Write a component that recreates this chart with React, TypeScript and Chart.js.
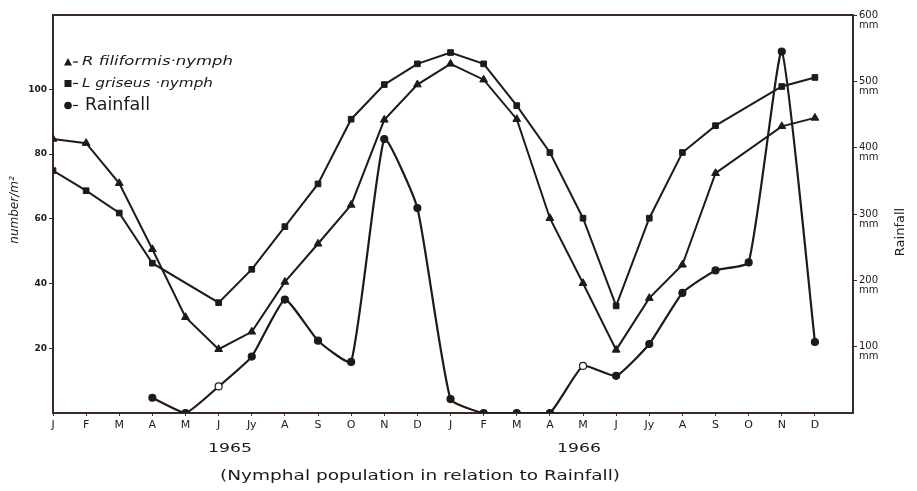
import React, { useEffect, useRef } from 'react';
import { Chart, registerables } from 'chart.js';

Chart.register(...registerables);

const months = ['J', 'F', 'M', 'A', 'M', 'J', 'Jy', 'A', 'S', 'O', 'N', 'D', 'J', 'F', 'M', 'A', 'M', 'J', 'Jy', 'A', 'S', 'O', 'N', 'D'];
const years = ['1965', '1966'];
const leftTicks = [20, 40, 60, 80, 100];
const rightTicks = [100, 200, 300, 400, 500, 600];

const filiformis = [84.7, 83.4, 71.0, 50.6, 29.6, 19.7, 25.1, 40.5, 52.3, 64.3, 90.6, 101.5, 107.9, 103.0, 90.8, 60.2, 40.1, 19.5, 35.5, 45.8, 74.1, null, 88.6, 91.2];
const griseus = [74.9, 68.7, 61.8, 46.3, null, 34.1, 44.4, 57.6, 70.8, 90.8, 101.5, 107.9, 111.4, 107.9, 95.0, 80.5, 60.2, 33.1, 60.2, 80.5, 88.8, null, 100.9, 103.7];
const rainfall = [null, null, null, 23, 0, 40, 85, 171, 109, 77, 413, 309, 21, 0, 0, 0, 71, 56, 104, 181, 215, 227, 545, 107];
const rainOpen = [5, 16];

const INK = '#1f1a17';
const AXIS = '#3a2b24';

function toPoints(arr: (number | null)[]) {
  return arr.map((v, i) => ({ x: i, y: v }));
}

function fitText(ctx: CanvasRenderingContext2D, text: string, x: number, y: number, width: number) {
  const w = ctx.measureText(text).width;
  ctx.save();
  ctx.translate(x, y);
  ctx.scale(width / w, 1);
  ctx.textAlign = 'left';
  ctx.fillText(text, 0, 0);
  ctx.restore();
}

const decorPlugin = {
  id: 'decor',
  afterDraw(chart: any) {
    const { ctx, chartArea } = chart;
    const { left, right, top } = chartArea;
    ctx.save();
    ctx.strokeStyle = AXIS;
    ctx.lineWidth = 2;
    ctx.beginPath();
    ctx.moveTo(left, top);
    ctx.lineTo(right, top);
    ctx.stroke();

    ctx.fillStyle = INK;
    ctx.textBaseline = 'middle';
    ctx.save();
    ctx.translate(15, 210);
    ctx.rotate(-Math.PI / 2);
    ctx.font = 'italic 12px "DejaVu Sans"';
    ctx.textAlign = 'center';
    ctx.fillText('number/m²', 0, 0);
    ctx.restore();

    ctx.save();
    ctx.translate(901, 232);
    ctx.rotate(-Math.PI / 2);
    ctx.font = '13px "DejaVu Sans"';
    ctx.textAlign = 'center';
    ctx.fillText('Rainfall', 0, 0);
    ctx.restore();

    ctx.font = '13px "DejaVu Sans"';
    fitText(ctx, years[0], 208, 449, 44);
    fitText(ctx, years[1], 557, 449, 44);

    ctx.font = '14px "DejaVu Sans"';
    fitText(ctx, '(Nymphal population in relation to Rainfall)', 220, 476, 400);

    const mx = 68;
    ctx.fillStyle = INK;
    ctx.strokeStyle = INK;
    ctx.lineWidth = 1.2;
    ctx.beginPath();
    ctx.moveTo(mx, 58);
    ctx.lineTo(mx + 4, 65.5);
    ctx.lineTo(mx - 4, 65.5);
    ctx.closePath();
    ctx.fill();
    ctx.fillRect(mx - 3.5, 80, 7, 7);
    ctx.beginPath();
    ctx.arc(mx, 105.5, 3.8, 0, Math.PI * 2);
    ctx.fill();
    [62, 83.5, 105.5].forEach((y) => {
      ctx.beginPath();
      ctx.moveTo(mx + 5, y);
      ctx.lineTo(mx + 10, y);
      ctx.stroke();
    });
    ctx.font = 'italic 13px "DejaVu Sans"';
    fitText(ctx, 'R filiformis·nymph', 82, 62, 151);
    fitText(ctx, 'L griseus ·nymph', 82, 84, 131);
    ctx.font = '17px "DejaVu Sans"';
    fitText(ctx, 'Rainfall', 85, 106, 65);
    ctx.restore();
  },
};

export default function App() {
  const ref = useRef<HTMLCanvasElement | null>(null);

  useEffect(() => {
    if (!ref.current) return;
    const chart = new Chart(ref.current, {
      type: 'line',
      data: {
        datasets: [
          {
            label: 'R filiformis nymph',
            data: toPoints(filiformis),
            yAxisID: 'y',
            borderColor: INK,
            backgroundColor: INK,
            borderWidth: 2,
            pointStyle: 'triangle',
            pointRadius: 4.5,
            pointBorderWidth: 1,
            spanGaps: true,
            tension: 0,
          },
          {
            label: 'L griseus nymph',
            data: toPoints(griseus),
            yAxisID: 'y',
            borderColor: INK,
            backgroundColor: INK,
            borderWidth: 2,
            pointStyle: 'rect',
            pointRadius: 4,
            pointBorderWidth: 1,
            spanGaps: true,
            tension: 0,
          },
          {
            label: 'Rainfall',
            data: toPoints(rainfall),
            yAxisID: 'y1',
            borderColor: INK,
            pointBackgroundColor: (c: any) => (rainOpen.includes(c.dataIndex) ? '#ffffff' : INK),
            pointBorderColor: INK,
            backgroundColor: INK,
            borderWidth: 2.2,
            pointStyle: 'circle',
            pointRadius: 3.5,
            pointBorderWidth: 1.2,
            spanGaps: true,
            tension: 0.15,
          },
        ],
      },
      options: {
        responsive: true,
        maintainAspectRatio: false,
        animation: false,
        layout: { padding: { top: 15, left: 0, right: 0, bottom: 0 } },
        plugins: {
          legend: { display: false },
          tooltip: { enabled: false },
          title: { display: false },
        },
        scales: {
          x: {
            type: 'linear',
            min: 0,
            max: 24.15,
            afterFit: (s: any) => {
              s.height = 78;
            },
            ticks: {
              stepSize: 1,
              autoSkip: false,
              maxRotation: 0,
              padding: 3,
              color: INK,
              font: { family: 'DejaVu Sans', size: 11 },
              callback: (v: any) => (months[v] !== undefined ? months[v] : ''),
            },
            grid: {
              display: true,
              drawOnChartArea: false,
              drawTicks: true,
              tickLength: 3,
              color: (c: any) => (c.tick && months[c.tick.value] !== undefined ? AXIS : 'rgba(0,0,0,0)'),
            },
            border: { display: true, color: AXIS, width: 2 },
          },
          y: {
            position: 'left',
            min: 0,
            max: 123,
            afterFit: (s: any) => {
              s.width = 53;
            },
            ticks: {
              stepSize: 20,
              padding: 2,
              color: INK,
              font: { family: 'DejaVu Sans', size: 9, weight: 'bold' },
              callback: (v: any) => (leftTicks.includes(v) ? String(v) : ''),
            },
            grid: {
              display: true,
              drawOnChartArea: false,
              drawTicks: true,
              tickLength: 4,
              color: (c: any) => (c.tick && leftTicks.includes(c.tick.value) ? AXIS : 'rgba(0,0,0,0)'),
            },
            border: { display: true, color: AXIS, width: 2 },
          },
          y1: {
            position: 'right',
            min: 0,
            max: 600,
            afterFit: (s: any) => {
              s.width = 64;
            },
            ticks: {
              stepSize: 100,
              padding: 2,
              labelOffset: 5,
              color: INK,
              font: { family: 'DejaVu Sans', size: 10, lineHeight: 1.0 },
              callback: (v: any) => (rightTicks.includes(v) ? [String(v), 'mm'] : ''),
            },
            grid: {
              display: true,
              drawOnChartArea: false,
              drawTicks: true,
              tickLength: 4,
              color: (c: any) => (c.tick && rightTicks.includes(c.tick.value) ? AXIS : 'rgba(0,0,0,0)'),
            },
            border: { display: true, color: AXIS, width: 2 },
          },
        },
      },
      plugins: [decorPlugin],
    });
    return () => chart.destroy();
  }, []);

  return (
    <div style={{ position: 'fixed', left: 0, top: 0, width: 917, height: 491, background: '#fff' }}>
      <canvas ref={ref} />
    </div>
  );
}
